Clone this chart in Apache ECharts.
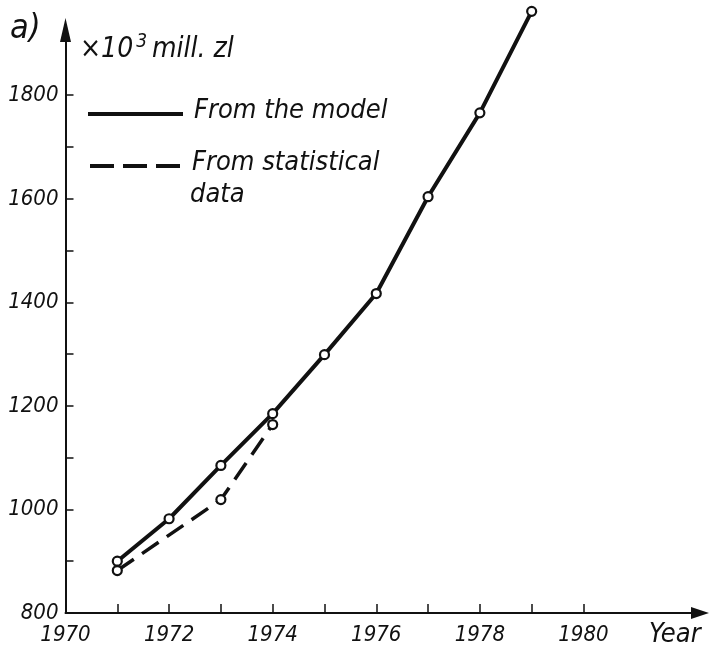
<!DOCTYPE html>
<html>
<head>
<meta charset="utf-8">
<script src="https://cdn.jsdelivr.net/npm/echarts@6/dist/echarts.min.js"></script>
<style>
html,body{margin:0;padding:0;background:#fff;}
#chart{width:710px;height:659px;}
</style>
</head>
<body>
<div id="chart"></div>
<script>
// Data
const modelYears = [1971, 1972, 1973, 1974, 1975, 1976, 1977, 1978, 1979];
const modelValues = [900, 982, 1085, 1185, 1299, 1417, 1604, 1766, 1962];
const statYears = [1971, 1973, 1974];
const statValues = [882, 1019, 1164];
const xTickValues = [1970, 1971, 1972, 1973, 1974, 1975, 1976, 1977, 1978, 1979, 1980];
const xLabelValues = [1970, 1972, 1974, 1976, 1978, 1980];
const yTickValues = [800, 900, 1000, 1100, 1200, 1300, 1400, 1500, 1600, 1700, 1800];
const yLabelValues = [800, 1000, 1200, 1400, 1600, 1800];

const INK = '#111';
const numFont = '"DejaVu Sans Condensed", "DejaVu Sans", sans-serif';
const textFont = '"DejaVu Sans Condensed", "DejaVu Sans", sans-serif';

const chart = echarts.init(document.getElementById('chart'), null, {renderer: 'canvas'});

const option = {
  backgroundColor: '#fff',
  animation: false,
  grid: {left: 65.5, right: 10, top: 30, bottom: 46, containLabel: false},
  xAxis: {
    type: 'value',
    min: 1970,
    max: 1982.25,
    interval: 1,
    splitLine: {show: false},
    axisLine: {
      show: true,
      lineStyle: {color: INK, width: 2},
      symbol: ['none', 'triangle'],
      symbolSize: [12, 18]
    },
    axisTick: {
      show: true, inside: true, length: 9,
      lineStyle: {color: INK, width: 1.5},
      customValues: xTickValues
    },
    axisLabel: {
      show: true, margin: 11,
      color: INK, fontSize: 22, fontStyle: 'italic', fontFamily: numFont,
      customValues: xLabelValues,
      formatter: v => String(v)
    }
  },
  yAxis: {
    type: 'value',
    min: 800,
    max: 1926,
    interval: 100,
    splitLine: {show: false},
    axisLine: {
      show: true,
      lineStyle: {color: INK, width: 2},
      symbol: ['none', 'triangle'],
      symbolSize: [11, 24]
    },
    axisTick: {
      show: true, inside: true, length: 8,
      lineStyle: {color: INK, width: 1.5},
      customValues: yTickValues
    },
    axisLabel: {
      show: true, margin: 7,
      color: INK, fontSize: 22, fontStyle: 'italic', fontFamily: numFont,
      customValues: yLabelValues,
      formatter: v => String(v)
    }
  },
  series: [
    {
      name: 'From the model',
      type: 'line',
      clip: false,
      data: modelYears.map((y, i) => [y, modelValues[i]]),
      symbol: 'circle',
      symbolSize: 9,
      showAllSymbol: true,
      lineStyle: {color: INK, width: 4},
      itemStyle: {color: '#fff', borderColor: INK, borderWidth: 2.2},
      z: 3
    },
    {
      name: 'From statistical data',
      type: 'line',
      clip: false,
      data: statYears.map((y, i) => [y, statValues[i]]),
      symbol: 'circle',
      symbolSize: 9,
      lineStyle: {color: INK, width: 3.5, type: [20, 10]},
      itemStyle: {color: '#fff', borderColor: INK, borderWidth: 2.2},
      z: 2
    }
  ],
  graphic: [
    {type: 'text', left: 10, top: 12, style: {text: 'a)', font: 'italic 34px ' + textFont, fill: INK}},
    {type: 'text', left: 80, top: 33, style: {
      text: '{m|×10}{s|3}{m|mill. zl}',
      rich: {
        m: {font: 'italic 28px ' + textFont, fill: INK, verticalAlign: 'bottom'},
        s: {font: 'italic 19px ' + textFont, fill: INK, verticalAlign: 'top', padding: [0, 5, 12, 3]}
      }
    }},
    {type: 'line', shape: {x1: 88, y1: 114, x2: 183, y2: 114}, style: {stroke: INK, lineWidth: 4}},
    {type: 'text', left: 194, top: 97, style: {text: 'From the model', font: 'italic 27px ' + textFont, fill: INK}},
    {type: 'line', shape: {x1: 90, y1: 166, x2: 181, y2: 166}, style: {stroke: INK, lineWidth: 4, lineDash: [24, 9]}},
    {type: 'text', left: 192, top: 149, style: {text: 'From statistical', font: 'italic 27px ' + textFont, fill: INK}},
    {type: 'text', left: 190, top: 181, style: {text: 'data', font: 'italic 27px ' + textFont, fill: INK}},
    {type: 'text', left: 649, top: 621, style: {text: 'Year', font: 'italic 27px ' + textFont, fill: INK}}
  ]
};

chart.setOption(option);
</script>
</body>
</html>
